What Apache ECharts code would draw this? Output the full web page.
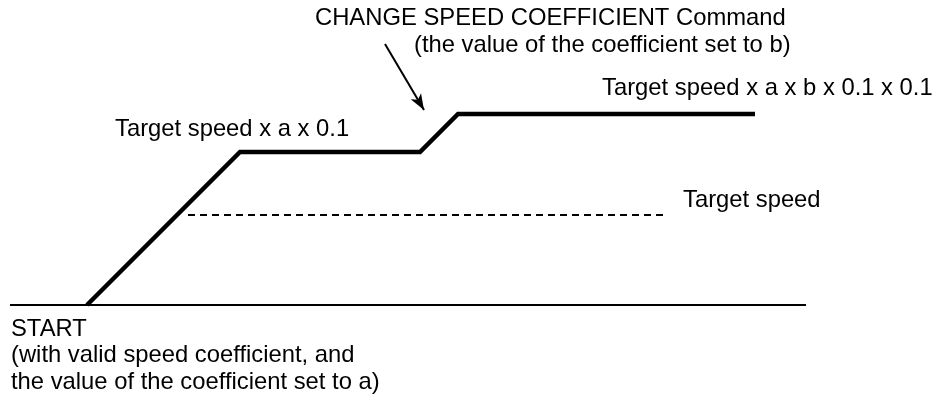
<!DOCTYPE html>
<html>
<head>
<meta charset="utf-8">
<script src="https://cdn.jsdelivr.net/npm/echarts@6/dist/echarts.min.js"></script>
<style>
  html, body { margin: 0; padding: 0; background: #fff; }
  #chart { width: 937px; height: 404px; }
</style>
</head>
<body>
<div id="chart"></div>
<script>
// speed profile (time, speed)
var profileTime = [87, 240, 420, 458, 755];
var profileSpeed = [0, 153, 153, 191, 191];
// time axis line
var axisTime = [10, 806];
// dashed target speed
var targetTime = [188, 665];
var targetSpeed = 90;
// arrow pointing at the coefficient change
var arrowFrom = [385, 261];
var arrowTo = [424, 195];

var font = '23.8px "Liberation Sans", Arial, sans-serif';
var labels = [
  { text: 'CHANGE SPEED COEFFICIENT Command', x: 315, y: 18 },
  { text: '(the value of the coefficient set to b)', x: 414, y: 45 },
  { text: 'Target speed x a x b x 0.1 x 0.1', x: 602, y: 88 },
  { text: 'Target speed x a x 0.1', x: 115, y: 129 },
  { text: 'Target speed', x: 683, y: 200 },
  { text: 'START', x: 11, y: 329 },
  { text: '(with valid speed coefficient, and', x: 11, y: 355 },
  { text: 'the value of the coefficient set to a)', x: 11, y: 382 }
];

function pairs(xs, ys) {
  var out = [];
  for (var i = 0; i < xs.length; i++) {
    out.push([xs[i], Array.isArray(ys) ? ys[i] : ys]);
  }
  return out;
}

var chart = echarts.init(document.getElementById('chart'));
var option = {
  animation: false,
  grid: { left: 0, right: 0, top: 0, bottom: 0 },
  xAxis: { type: 'value', min: 0, max: 937, show: false },
  yAxis: { type: 'value', min: -99, max: 305, show: false },
  graphic: labels.map(function (l) {
    return {
      type: 'text',
      left: l.x,
      top: l.y - 12,
      silent: true,
      style: { text: l.text, font: font, fill: '#000' }
    };
  }),
  series: [
    {
      type: 'line',
      data: pairs(axisTime, 0),
      showSymbol: false,
      lineStyle: { color: '#000', width: 2 },
      silent: true
    },
    {
      type: 'line',
      data: pairs(targetTime, targetSpeed),
      showSymbol: false,
      lineStyle: { color: '#000', width: 2, type: [7, 5] },
      silent: true
    },
    {
      type: 'line',
      data: pairs(profileTime, profileSpeed),
      showSymbol: false,
      lineStyle: { color: '#000', width: 4.5, join: 'miter' },
      silent: true,
      markLine: {
        silent: true,
        symbol: ['none', 'arrow'],
        symbolSize: [9, 16],
        label: { show: false },
        lineStyle: { color: '#000', width: 2, type: 'solid' },
        data: [[{ coord: arrowFrom }, { coord: arrowTo }]]
      }
    }
  ]
};
chart.setOption(option);
</script>
</body>
</html>
